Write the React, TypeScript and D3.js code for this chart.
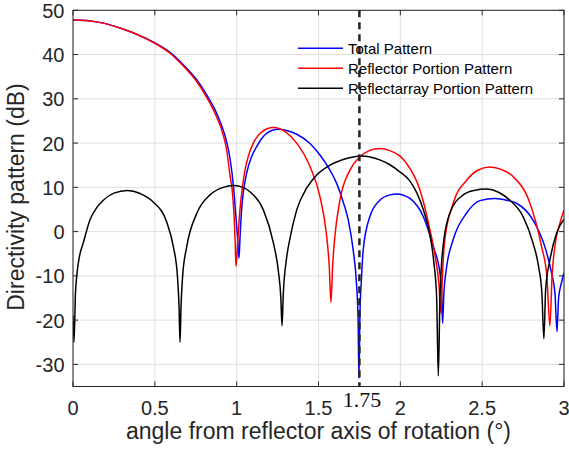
import React from "react";
import * as d3 from "d3";

type Pt = [number, number];

const xTicks = [0, 0.5, 1, 1.5, 2, 2.5, 3];
const xTickLabels = ["0", "0.5", "1", "1.5", "2", "2.5", "3"];
const yTicks = [-30, -20, -10, 0, 10, 20, 30, 40, 50];
const yTickLabels = ["-30", "-20", "-10", "0", "10", "20", "30", "40", "50"];

const seriesNames = ["Total Pattern", "Reflector Portion Pattern", "Reflectarray Portion Pattern"];
const seriesColors = ["#0000ff", "#ff0000", "#000000"];

const markerAngle = 1.75;
const markerLabel = "1.75";

const totalPattern: Pt[] = [
  [0, 47.8], [0.104, 47.6], [0.185, 47.1], [0.287, 46.0], [0.389, 44.6], [0.507, 42.5],
  [0.593, 40.5], [0.674, 37.7], [0.756, 34.3], [0.817, 30.9], [0.868, 27.5], [0.918, 22.9],
  [0.938, 20.4], [0.96, 16.4], [0.982, 9.6], [0.995, 3.5], [1.005, -1], [1.014, -6.0],
  [1.021, -1], [1.03, 4.9], [1.045, 10], [1.061, 13.2], [1.09, 16.8], [1.122, 19.2],
  [1.183, 22.2], [1.254, 23.1], [1.31, 22.8], [1.367, 22.0], [1.448, 19.9], [1.509, 17.3],
  [1.57, 13.9], [1.611, 10.9], [1.651, 6.7], [1.682, 2.6], [1.712, -4.2], [1.732, -11.7],
  [1.742, -20], [1.747, -33.2], [1.753, -19], [1.762, -11], [1.773, -4.2], [1.814, 3.4],
  [1.875, 7.1], [1.936, 8.3], [1.98, 8.5], [2.02, 8.2], [2.059, 7.5], [2.14, 3.4],
  [2.201, -3.4], [2.242, -9.4], [2.252, -14], [2.258, -20.7], [2.266, -14], [2.283, -8],
  [2.323, -1.8], [2.405, 4.2], [2.486, 7.0], [2.578, 7.5], [2.65, 7.1], [2.71, 6.4],
  [2.811, 2.6], [2.883, -3.4], [2.924, -9.4], [2.945, -14], [2.957, -22.6], [2.967, -15],
  [2.985, -11.5], [3.0, -9.3],
];

const reflectorPattern: Pt[] = [
  [0, 47.8], [0.104, 47.6], [0.185, 47.1], [0.287, 46.0], [0.389, 44.6], [0.507, 42.4],
  [0.593, 40.3], [0.674, 37.4], [0.756, 33.9], [0.817, 30.3], [0.868, 26.7], [0.918, 21.8],
  [0.94, 18.2], [0.959, 12.8], [0.973, 9.2], [0.985, 3], [0.991, -2.5], [0.996, -7.9],
  [1.006, -2.5], [1.02, 4.9], [1.035, 10], [1.051, 13.9], [1.075, 17.5], [1.102, 20],
  [1.15, 22.4], [1.224, 23.5], [1.3, 22.5], [1.367, 20], [1.448, 14.7], [1.509, 7.9],
  [1.55, -1.1], [1.566, -8], [1.576, -16], [1.586, -8], [1.6, -1.1], [1.631, 7.1],
  [1.692, 13.9], [1.753, 16.9], [1.81, 18.3], [1.875, 18.8], [1.936, 18.3], [2.0, 17.0],
  [2.038, 15.4], [2.12, 9.4], [2.181, 0.4], [2.215, -6], [2.236, -12], [2.248, -18.5],
  [2.257, -10], [2.272, -1.8], [2.323, 6.4], [2.405, 11.6], [2.47, 13.8], [2.547, 14.6],
  [2.62, 14.0], [2.69, 12.4], [2.792, 6.4], [2.863, -3.4], [2.895, -10], [2.914, -21.3],
  [2.927, -10], [2.944, -3.4], [2.975, 1.9], [3.0, 4.9],
];

const reflectarrayPattern: Pt[] = [
  [0, -19], [0.006, -25], [0.015, -14], [0.023, -10], [0.04, -5.5], [0.063, -2.5],
  [0.104, 2.7], [0.145, 5.4], [0.185, 7.1], [0.25, 8.7], [0.332, 9.3], [0.41, 8.6],
  [0.49, 6.7], [0.572, 2.2], [0.613, -3.4], [0.638, -10], [0.648, -17], [0.654, -25],
  [0.66, -17], [0.67, -10], [0.695, -3.4], [0.756, 4.1], [0.837, 8.3], [0.918, 10.0],
  [0.979, 10.4], [1.03, 10.1], [1.081, 9.0], [1.163, 4.9], [1.224, -2.5], [1.255, -9],
  [1.27, -15], [1.277, -21.3], [1.285, -14], [1.305, -6], [1.326, -1.5], [1.367, 4.9],
  [1.427, 9.8], [1.489, 12.8], [1.57, 15.0], [1.651, 16.3], [1.763, 17.1], [1.875, 16.2],
  [1.936, 15.1], [1.997, 13.5], [2.059, 11.4], [2.1, 8.8], [2.14, 5.0], [2.181, -0.8],
  [2.205, -7], [2.222, -15], [2.232, -32.6], [2.242, -15], [2.262, -3], [2.303, 4.2],
  [2.384, 8.3], [2.45, 9.3], [2.527, 9.6], [2.6, 8.9], [2.669, 7.1], [2.75, 3.4],
  [2.811, -2.6], [2.845, -8], [2.865, -14], [2.877, -24.2], [2.888, -13], [2.914, -6.4],
  [2.955, -0.3], [3.0, 2.8],
];

const seriesData: Pt[][] = [totalPattern, reflectorPattern, reflectarrayPattern];

const W = 569;
const H = 451;
const left = 73;
const right = 564;
const top = 10.3;
const bottom = 386.5;

const axisColor = "#262626";
const gridColor = "#dfdfdf";
const font = "'Liberation Sans', Arial, Helvetica, sans-serif";

export default function App() {
  const x = d3.scaleLinear().domain([0, 3]).range([left, right]);
  const y = d3.scaleLinear().domain([-35, 50]).range([bottom, top]);
  const line = d3
    .line<Pt>()
    .x((d) => x(d[0]))
    .y((d) => y(d[1]))
    .curve(d3.curveMonotoneX);
  const tickLen = 5;
  const mx = x(markerAngle);

  return (
    <svg
      width={W}
      height={H}
      style={{ position: "absolute", left: 0, top: 0, background: "#fff" }}
      fontFamily={font}
    >
      <rect x={0} y={0} width={W} height={H} fill="#fff" />
      <defs>
        <clipPath id="plotClip">
          <rect x={left} y={top} width={right - left} height={bottom - top} />
        </clipPath>
      </defs>
      {xTicks.map((t) => (
        <line key={"gx" + t} x1={x(t)} x2={x(t)} y1={top} y2={bottom} stroke={gridColor} strokeWidth={1} />
      ))}
      {yTicks.map((t) => (
        <line key={"gy" + t} x1={left} x2={right} y1={y(t)} y2={y(t)} stroke={gridColor} strokeWidth={1} />
      ))}
      <g clipPath="url(#plotClip)">
        {seriesData.map((s, i) => (
          <path key={i} d={line(s) || ""} fill="none" stroke={seriesColors[i]} strokeWidth={1.5} strokeLinejoin="round" />
        ))}
      </g>
      <line x1={mx} x2={mx} y1={top} y2={bottom} stroke="#222" strokeWidth={2.5} strokeDasharray="7,5" />
      <rect x={left} y={top} width={right - left} height={bottom - top} fill="none" stroke={axisColor} strokeWidth={1} />
      {xTicks.map((t) => (
        <g key={"tx" + t}>
          <line x1={x(t)} x2={x(t)} y1={bottom} y2={bottom - tickLen} stroke={axisColor} />
          <line x1={x(t)} x2={x(t)} y1={top} y2={top + tickLen} stroke={axisColor} />
        </g>
      ))}
      {yTicks.map((t) => (
        <g key={"ty" + t}>
          <line x1={left} x2={left + tickLen} y1={y(t)} y2={y(t)} stroke={axisColor} />
          <line x1={right} x2={right - tickLen} y1={y(t)} y2={y(t)} stroke={axisColor} />
        </g>
      ))}
      {xTicks.map((t, i) => (
        <text key={"lx" + t} x={x(t)} y={415} textAnchor="middle" fontSize={20} fill={axisColor}>
          {xTickLabels[i]}
        </text>
      ))}
      {yTicks.map((t, i) => (
        <text key={"ly" + t} x={64.5} y={y(t) + 7.5} textAnchor="end" fontSize={20} fill={axisColor}>
          {yTickLabels[i]}
        </text>
      ))}
      <text x={mx + 2.5} y={406.5} textAnchor="middle" fontSize={22} fontFamily="'Liberation Serif', 'Times New Roman', serif" fill="#111">
        {markerLabel}
      </text>
      <text x={(left + right) / 2} y={439} textAnchor="middle" fontSize={23} fill={axisColor}>
        angle from reflector axis of rotation (°)
      </text>
      <text
        transform={`translate(24, 197) rotate(-90)`}
        textAnchor="middle"
        fontSize={23}
        fill={axisColor}
      >
        Directivity pattern (dB)
      </text>
      {seriesNames.map((n, i) => (
        <g key={"lg" + i}>
          <line x1={298} x2={343} y1={48.3 + i * 20} y2={48.3 + i * 20} stroke={seriesColors[i]} strokeWidth={1.5} />
          <text x={348} y={48.3 + i * 20 + 5.3} fontSize={15} fill="#000">
            {n}
          </text>
        </g>
      ))}
    </svg>
  );
}
